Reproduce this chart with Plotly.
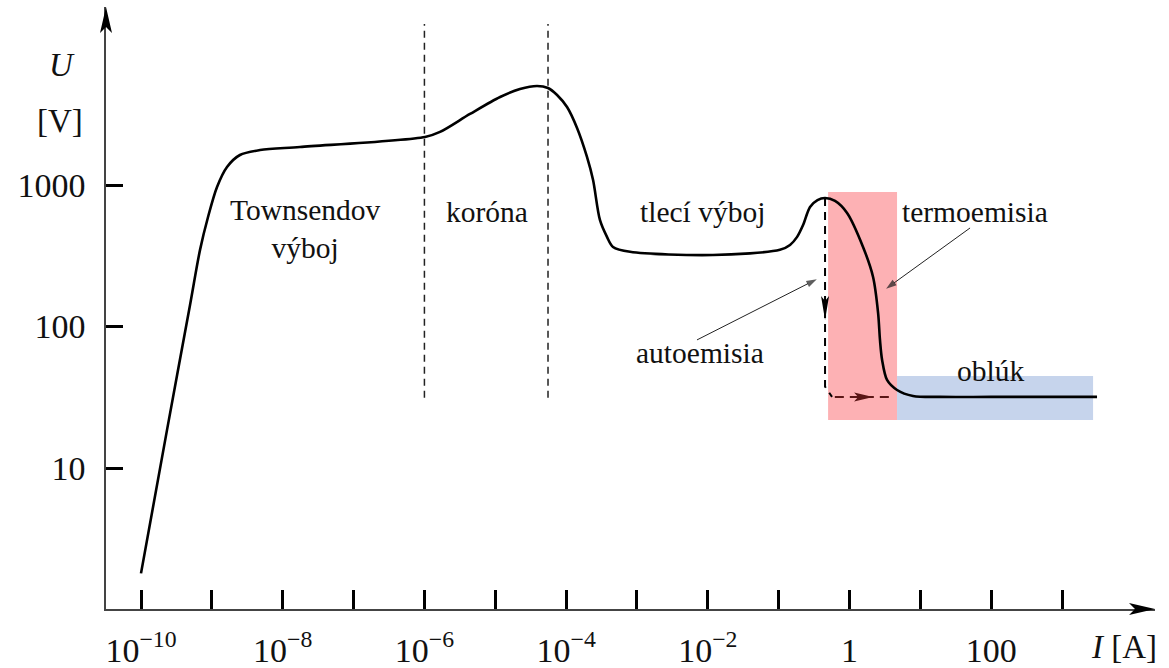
import math
import plotly.graph_objects as go

# Current–voltage characteristic of a gas discharge (log–log)
current_A = [1.0e-10, 2.33e-10, 4.92e-10, 6.81e-10, 8.83e-10, 1.183e-9, 1.637e-9,
             2.49e-9, 4.79e-9, 1.75e-8, 1.02e-6, 1.66e-6, 4.4e-6, 1.17e-5,
             2.23e-5, 3.88e-5, 5.55e-5, 7.45e-5, 1.03e-4, 1.426e-4, 1.97e-4,
             2.4e-4, 3.0e-4, 3.77e-4, 4.59e-4, 7.98e-4, 1.18e-2, 0.104, 0.1445,
             0.182, 0.2208, 0.277, 0.3528, 0.451, 0.624, 0.923, 1.55, 2.148,
             2.53, 2.69, 2.88, 3.38, 4.68, 7.87, 18.9, 100, 3110]
voltage_V = [1.8, 18.6, 142, 348, 594, 968, 1341,
             1630, 1766, 1856, 2183, 2372, 3178, 4190,
             4764, 5012, 4850, 4325, 3556, 2529, 1578,
             1084, 566, 430, 365, 337, 320, 348, 377,
             430, 521, 700, 783, 809, 771, 634, 365, 224,
             124.5, 80, 58, 41.9, 35.6, 32.3, 31.8, 31.8, 31.8]

# Region boundaries (Townsend / corona / glow)
boundary_I = [1e-6, 5.55e-5]
boundary_U = [31.4, 13740]

# Jump from glow discharge to arc through field emission
jump_down_I = [0.451, 0.451, 0.566]
jump_down_U = [809, 37.6, 31.8]
jump_right_I = [0.62, 3.6]
jump_right_U = [31.8, 31.8]
jump_heads_I = [0.451, 2.15]
jump_heads_U = [111, 31.8]

# Highlighted bands: thermionic emission and arc
thermo_I = [0.498, 4.68]
thermo_U = [21.8, 893]
arc_I = [4.68, 2735]
arc_U = [21.8, 44.7]

# Axis ticks
x_major_exp = [-10, -8, -6, -4, -2, 0, 2]
x_major_text = ["10<sup>−10</sup>", "10<sup>−8</sup>", "10<sup>−6</sup>",
                "10<sup>−4</sup>", "10<sup>−2</sup>", "1", "100"]
x_minor_exp = [-9, -7, -5, -3, -1, 1, 3]
y_tick_vals = [10, 100, 1000]
y_tick_text = ["10", "100", "1000"]

SERIF = "Liberation Serif"
INK = "#111111"

fig = go.Figure()


def band(xs, ys, color):
    fig.add_trace(go.Scatter(
        x=[xs[0], xs[1], xs[1], xs[0], xs[0]],
        y=[ys[0], ys[0], ys[1], ys[1], ys[0]],
        mode="lines", fill="toself", fillcolor=color,
        line=dict(width=0), hoverinfo="skip", showlegend=False))


band(thermo_I, thermo_U, "#FDB1B4")
band(arc_I, arc_U, "#C6D4EC")

for xb in boundary_I:
    fig.add_trace(go.Scatter(
        x=[xb, xb], y=boundary_U, mode="lines",
        line=dict(color="#222222", width=1.5, dash="7px,5px"),
        hoverinfo="skip", showlegend=False))

fig.add_trace(go.Scatter(
    x=current_A, y=voltage_V, mode="lines",
    line=dict(color="black", width=2.6, shape="spline", smoothing=0.85),
    hoverinfo="skip", showlegend=False))

fig.add_trace(go.Scatter(
    x=jump_down_I, y=jump_down_U, mode="lines",
    line=dict(color="black", width=2, dash="8px,6px"),
    hoverinfo="skip", showlegend=False))
fig.add_trace(go.Scatter(
    x=jump_right_I, y=jump_right_U, mode="lines",
    line=dict(color="#5a1616", width=2, dash="9px,6px"),
    hoverinfo="skip", showlegend=False))

# Arrowheads on the jump path (pixel sized, anchored to data)
fig.add_shape(type="path", xref="x", yref="y", xsizemode="pixel", ysizemode="pixel",
              xanchor=jump_heads_I[0], yanchor=jump_heads_U[0],
              path="M 0 0 L -4 24 L 0 19 L 4 24 Z",
              fillcolor="black", line=dict(width=0))
fig.add_shape(type="path", xref="x", yref="y", xsizemode="pixel", ysizemode="pixel",
              xanchor=jump_heads_I[1], yanchor=jump_heads_U[1],
              path="M 0 0 L -19 4.5 L -15 0 L -19 -4.5 Z",
              fillcolor="#5a1616", line=dict(width=0))

# Axis arrowheads
fig.add_shape(type="path", xref="paper", yref="paper", xsizemode="pixel", ysizemode="pixel",
              xanchor=1, yanchor=0, path="M 0 0 L -26 6 L -20 0 L -26 -6 Z",
              fillcolor="black", line=dict(width=0))
fig.add_shape(type="path", xref="paper", yref="paper", xsizemode="pixel", ysizemode="pixel",
              xanchor=0, yanchor=1, path="M 0 0 L -6 -26 L 0 -20 L 6 -26 Z",
              fillcolor="black", line=dict(width=0))

lg = math.log10

# Region labels
labels = [
    ("Townsendov<br>výboj", 2.07e-8, 489),
    ("koróna", 7.66e-6, 645),
    ("tlecí výboj", 8.28e-3, 645),
    ("termoemisia", 59.0, 645),
    ("autoemisia", 7.76e-3, 65.0),
    ("oblúk", 96.2, 48.5),
]
for text, xi, yu in labels:
    fig.add_annotation(x=lg(xi), y=lg(yu), xref="x", yref="y", text=text,
                       xanchor="center", yanchor="middle",
                       showarrow=False, font=dict(family=SERIF, size=29.5, color=INK))

# Pointer lines from the emission labels, arrowhead at the end
pointers = [
    ([7.03e-3, 0.345], [80.4, 216]),   # autoemisia
    ([50.2, 3.28], [497, 185]),        # termoemisia
]
for px_, py_ in pointers:
    fig.add_trace(go.Scatter(
        x=px_, y=py_, mode="lines+markers",
        line=dict(color="#222222", width=1),
        marker=dict(symbol=["circle", "arrow"], size=[0, 11], color="#1a1a1a",
                    angleref="previous", line=dict(width=0)),
        hoverinfo="skip", showlegend=False))

# Axis titles
for text, xp, yp in [("<i>U</i>", -0.042, 0.904), ("[V]", -0.044, 0.811),
                     ("<i>I</i> [A]", 0.970, -0.063)]:
    fig.add_annotation(x=xp, y=yp, xref="paper", yref="paper", text=text,
                       xanchor="center", yanchor="middle", showarrow=False,
                       font=dict(family=SERIF, size=33, color=INK))

fig.update_xaxes(
    type="log", range=[-10.494, 4.311], automargin=False,
    tickvals=[10.0 ** e for e in x_major_exp], ticktext=x_major_text,
    ticks="inside", ticklen=19, tickwidth=2.5, tickcolor="black",
    minor=dict(tickvals=[10.0 ** e for e in x_minor_exp], ticks="inside",
               ticklen=19, tickwidth=2.5, tickcolor="black", showgrid=False),
    showline=True, linecolor="#444444", linewidth=1.5,
    showgrid=False, zeroline=False, ticklabelstandoff=10,
    tickfont=dict(family=SERIF, size=34, color=INK))
fig.update_yaxes(
    type="log", range=[0.0035, 4.258], automargin=False,
    tickvals=y_tick_vals, ticktext=y_tick_text,
    ticks="inside", ticklen=17, tickwidth=2.5, tickcolor="black",
    showline=True, linecolor="#444444", linewidth=1.5,
    showgrid=False, zeroline=False, ticklabelstandoff=12,
    tickfont=dict(family=SERIF, size=34, color=INK))

fig.update_layout(
    width=1169, height=668,
    margin=dict(l=106, r=14, t=7, b=59),
    paper_bgcolor="white", plot_bgcolor="white",
    showlegend=False)

fig.write_html("out.html")
